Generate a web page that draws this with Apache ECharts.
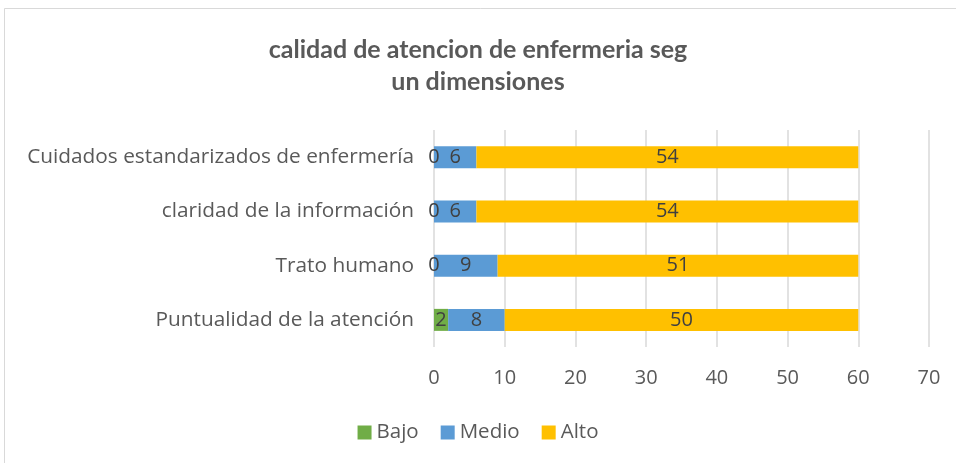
<!DOCTYPE html>
<html>
<head>
<meta charset="utf-8">
<script src="https://cdn.jsdelivr.net/npm/echarts@6/dist/echarts.min.js"></script>
<style>
  html, body { margin: 0; padding: 0; background: #fff; }
  #main { width: 956px; height: 463px; }
</style>
</head>
<body>
<div id="main"></div>
<script>
// categorias de abajo hacia arriba
const categorias = ['Puntualidad de la atención', 'Trato humano', 'claridad de la información', 'Cuidados estandarizados de enfermería'];
const bajo = [2, 0, 0, 0];
const medio = [8, 9, 6, 6];
const alto = [50, 51, 54, 54];
const ticksX = [0, 10, 20, 30, 40, 50, 60, 70];

const fuente = '"Open Sans", sans-serif';
const fuenteTitulo = 'Lato, sans-serif';
const chart = echarts.init(document.getElementById('main'));

function serie(nombre, datos, color) {
  return {
    name: nombre,
    type: 'bar',
    stack: 'total',
    barWidth: 22,
    data: datos,
    itemStyle: { color: color },
    label: {
      show: true,
      position: 'inside',
      color: '#404040',
      fontSize: 20,
      fontFamily: fuente
    }
  };
}

chart.setOption({
  backgroundColor: '#fff',
  animation: false,
  title: {
    text: 'calidad de atencion de enfermeria seg\nun dimensiones',
    left: 'center',
    top: 29,
    textStyle: {
      color: '#595959',
      fontSize: 25,
      fontWeight: 'bold',
      fontFamily: fuenteTitulo,
      lineHeight: 32
    }
  },
  legend: {
    bottom: 15,
    left: 'center',
    itemWidth: 14,
    itemHeight: 14,
    itemGap: 22,
    icon: 'rect',
    textStyle: { color: '#595959', fontSize: 20.5, fontFamily: fuente },
    data: ['Bajo', 'Medio', 'Alto']
  },
  grid: { left: 434, right: 27, top: 130, bottom: 116, containLabel: false },
  xAxis: {
    type: 'value',
    min: ticksX[0],
    max: ticksX[ticksX.length - 1],
    interval: 10,
    axisLine: { show: false },
    axisTick: { show: false },
    axisLabel: { color: '#595959', fontSize: 20, fontFamily: fuente, margin: 21 },
    splitLine: { lineStyle: { color: '#d9d9d9', width: 1.5 } }
  },
  yAxis: {
    type: 'category',
    data: categorias,
    axisLine: { show: false },
    axisTick: { show: false },
    axisLabel: { color: '#595959', fontSize: 20.8, fontFamily: fuente, margin: 20 }
  },
  graphic: [{
    type: 'rect',
    shape: { x: 4.5, y: 8.5, width: 1000, height: 1000 },
    style: { fill: 'none', stroke: '#d9d9d9', lineWidth: 1 },
    silent: true
  }],
  series: [
    serie('Bajo', bajo, '#70ad47'),
    serie('Medio', medio, '#5b9bd5'),
    serie('Alto', alto, '#ffc000')
  ]
});
</script>
</body>
</html>
